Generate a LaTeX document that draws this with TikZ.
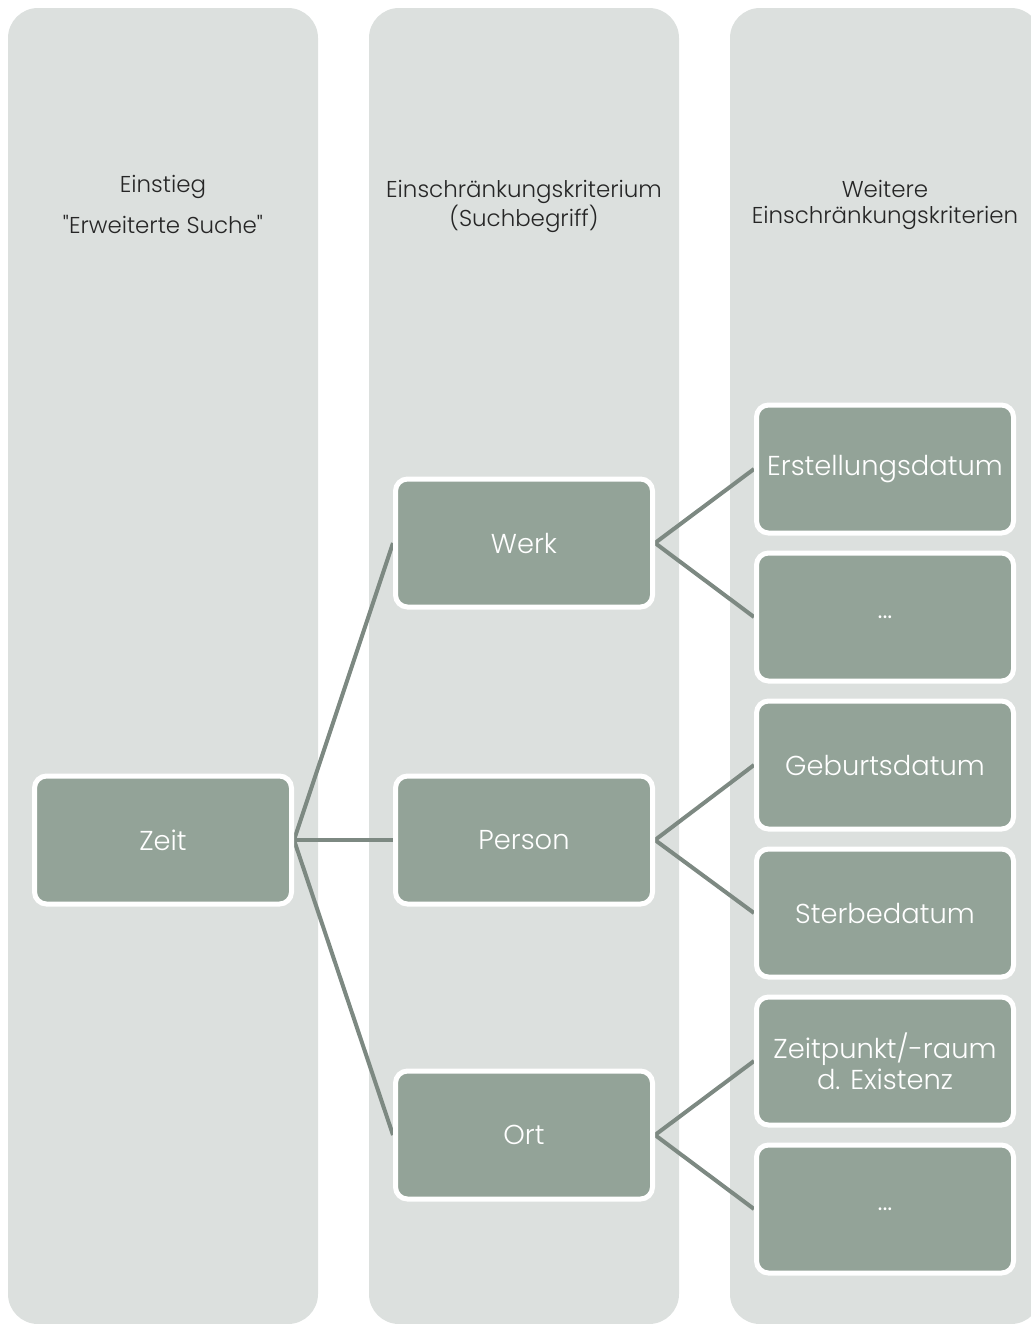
\documentclass[tikz,border=0pt]{standalone}
\usepackage{fontspec}
\setmainfont{Poppins Light}[Ligatures=TeXOff]
\usetikzlibrary{positioning}
\definecolor{colfill}{HTML}{DCE0DE}
\definecolor{boxfill}{HTML}{93A398}
\definecolor{linecol}{HTML}{7D8982}
\definecolor{headtext}{HTML}{262626}
\pgfdeclarelayer{cols}
\pgfdeclarelayer{edges}
\pgfsetlayers{cols,edges,main}
\tikzset{
  column/.style={fill=colfill, draw=none, rounded corners=22.5pt},
  itembox/.style={rectangle, rounded corners=9pt, fill=boxfill, draw=white, line width=3.75pt,
     minimum width=192.75pt, minimum height=96pt, inner sep=0pt, text=white,
     align=center, font=\fontsize{20.5}{23}\selectfont},
  header/.style={text=headtext, align=center, font=\fontsize{17.2}{20}\selectfont, inner sep=0pt},
  link/.style={draw=linecol, line width=3pt}
}
\begin{document}
\begin{tikzpicture}[x=0.75pt, y=-0.75pt]
\useasboundingbox (0,0) rectangle (1031,1324);
\clip (0,0) rectangle (1031,1324);
\begin{pgfonlayer}{cols}
  \fill[column] (8,8) rectangle (318,1324);
  \fill[column] (369,8) rectangle (679,1324);
  \fill[column] (730,8) rectangle (1041,1324);
\end{pgfonlayer}
\node[header] (h1a) at (163,187) {Einstieg};
\node[header] (h1b) at (163,224) {"Erweiterte Suche"};
\node[header] (h2) at (524,206) {Einschränkungskriterium\\(Suchbegriff)};
\node[header] (h3) at (885,205) {Weitere\\Einschränkungskriterien};

\node[itembox] (zeit) at (163,840) {Zeit};
\node[itembox] (werk) at (524,543) {Werk};
\node[itembox] (person) at (524,840) {Person};
\node[itembox] (ort) at (524,1135) {Ort};

\node[itembox] (erst) at (885,469) {Erstellungsdatum};
\node[itembox] (dots1) at (885,617) {...};
\node[itembox] (geb) at (885,765) {Geburtsdatum};
\node[itembox] (sterb) at (885,913) {Sterbedatum};
\node[itembox] (zpkt) at (885,1061) {Zeitpunkt/-raum\\d. Existenz};
\node[itembox] (dots2) at (885,1209) {...};

\begin{pgfonlayer}{edges}
  \draw[link] (zeit.east) -- (werk.west);
  \draw[link] (zeit.east) -- (person.west);
  \draw[link] (zeit.east) -- (ort.west);
  \draw[link] (werk.east) -- (erst.west);
  \draw[link] (werk.east) -- (dots1.west);
  \draw[link] (person.east) -- (geb.west);
  \draw[link] (person.east) -- (sterb.west);
  \draw[link] (ort.east) -- (zpkt.west);
  \draw[link] (ort.east) -- (dots2.west);
\end{pgfonlayer}
\end{tikzpicture}
\end{document}
